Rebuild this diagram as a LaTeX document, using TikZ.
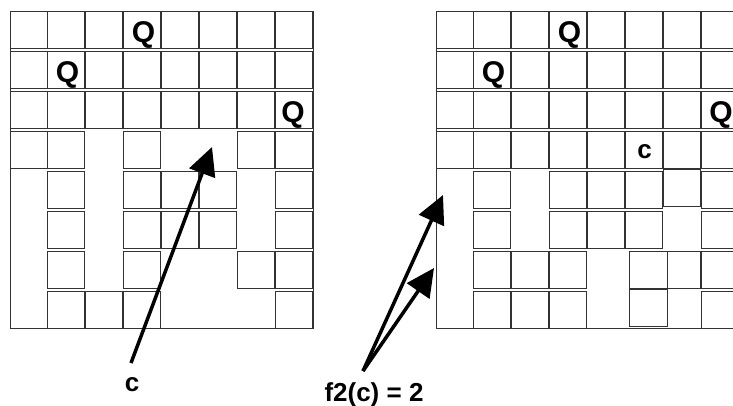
\documentclass[tikz,border=0pt]{standalone}
\usepackage{fontspec}
\setmainfont{Liberation Sans}
\usetikzlibrary{arrows.meta}

\tikzset{
  cell/.style={draw=black!80, line width=0.9pt},
  piece/.style={font=\bfseries\fontsize{30}{30}\selectfont, inner sep=0pt, anchor=base},
  lbl/.style={font=\bfseries\fontsize{26}{26}\selectfont, inner sep=0pt, anchor=base},
  pointer/.style={line width=3.5pt, -{Triangle[length=28pt,width=27pt]}}
}

\begin{document}
\begin{tikzpicture}[x=1pt,y=-1pt]
  \useasboundingbox (0,0) rectangle (733,405);

  % left board
  \draw[cell] (10,11) rectangle (313,328);
  \foreach \r/\cs in {1/{1,...,8},2/{1,...,8},3/{1,...,8},4/{1,2,4,7,8},
                      5/{2,4,5,6,8},6/{2,4,5,6,8},7/{2,4,7,8},8/{2,3,4,8}}
    \foreach \c in \cs
      \draw[cell] ({10+(\c-1)*37.85},{11+(\r-1)*40}) rectangle ++(37,37.5);
  \node[piece] (lqa) at (143.5,42) {Q};
  \node[piece] (lqb) at (67.5,82) {Q};
  \node[piece] (lqc) at (293,122) {Q};

  % right board (cut at the edge)
  \draw[cell] (436,11) rectangle (740,328);
  \foreach \r/\cs in {1/{1,...,8},2/{1,...,8},3/{1,...,8},4/{1,...,8},
                      5/{2,4,5,6,8},6/{2,4,5,6,8},7/{2,3,4,8},8/{2,3,4,8}}
    \foreach \c in \cs
      \draw[cell] ({436+(\c-1)*37.85},{11+(\r-1)*40}) rectangle ++(37,37.5);
  \draw[cell] (663.1,169) rectangle ++(37,37.5);
  \draw[cell] (629,251) rectangle ++(38.5,37.5);
  \draw[cell] (667.5,251) rectangle (700.5,288.5);
  \draw[cell] (629,289) rectangle ++(38.5,37.5);
  \node[piece] (rqa) at (569.5,42) {Q};
  \node[piece] (rqb) at (493.5,82) {Q};
  \node[piece] (rqc) at (721,122) {Q};
  \node[lbl] (rc) at (644.5,158) {c};

  % labels and pointers
  \node[lbl] (clbl) at (132,391) {c};
  \coordinate (ctail) at (131,363);
  \coordinate (ctip) at (212,147);
  \draw[pointer] (ctail) -- (ctip);

  \node[lbl] (flbl) at (374,401) {f2(c) = 2};
  \coordinate (ftail) at (363,371);
  \coordinate (ftipa) at (443,195);
  \coordinate (ftipb) at (434,268);
  \draw[pointer] (ftail) -- (ftipa);
  \draw[pointer] (ftail) -- (ftipb);
\end{tikzpicture}
\end{document}
